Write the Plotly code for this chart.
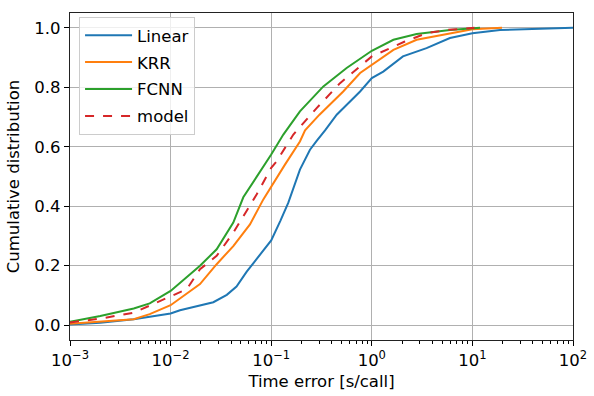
import plotly.graph_objects as go

# ---- data ----
linear_x = [0.001, 0.002, 0.0043, 0.01, 0.0124, 0.0266, 0.0362, 0.0452, 0.0571, 0.0774, 0.1, 0.123, 0.148, 0.193,
            0.243, 0.283, 0.343, 0.448, 0.765, 1.0, 1.3, 2.04, 3.5, 5.98, 10, 18.8, 50, 100]
linear_y = [0.002, 0.008, 0.02, 0.039, 0.05, 0.077, 0.102, 0.13, 0.18, 0.235, 0.285, 0.35, 0.412, 0.523,
            0.59, 0.62, 0.655, 0.708, 0.786, 0.831, 0.853, 0.904, 0.932, 0.966, 0.982, 0.993, 0.998, 1.0]

krr_x = [0.001, 0.002, 0.0043, 0.0062, 0.01, 0.0196, 0.0287, 0.042, 0.0615, 0.0835, 0.1, 0.137, 0.193,
         0.217, 0.302, 0.52, 0.765, 1.0, 1.64, 2.79, 5.98, 10, 19.7]
krr_y = [0.005, 0.011, 0.02, 0.037, 0.067, 0.138, 0.205, 0.266, 0.339, 0.423, 0.467, 0.54, 0.618,
         0.655, 0.708, 0.786, 0.848, 0.876, 0.926, 0.960, 0.982, 0.995, 1.0]

fcnn_x = [0.001, 0.002, 0.0043, 0.0062, 0.01, 0.0196, 0.0287, 0.042, 0.0528, 0.0774, 0.1, 0.132, 0.193,
          0.33, 0.562, 1.0, 1.64, 2.79, 5.98, 11.9]
fcnn_y = [0.011, 0.031, 0.056, 0.073, 0.115, 0.2, 0.255, 0.345, 0.43, 0.515, 0.574, 0.641, 0.719,
          0.803, 0.865, 0.923, 0.96, 0.979, 0.993, 1.0]

model_x = [0.001, 0.002, 0.0043, 0.01, 0.0145, 0.0196, 0.0287, 0.042, 0.0718, 0.1, 0.113, 0.166, 0.283,
           0.483, 0.765, 1.0, 2.13, 3.5, 5.6, 10.5]
model_y = [0.009, 0.022, 0.042, 0.098, 0.121, 0.188, 0.233, 0.311, 0.44, 0.529, 0.551, 0.641, 0.73,
           0.814, 0.87, 0.904, 0.954, 0.982, 0.993, 1.0]

series_names = ["Linear", "KRR", "FCNN", "model"]
x_tick_vals = [1e-3, 1e-2, 1e-1, 1e0, 1e1, 1e2]
x_tick_text = ["10<sup>\u22123</sup>", "10<sup>\u22122</sup>", "10<sup>\u22121</sup>",
               "10<sup>0</sup>", "10<sup>1</sup>", "10<sup>2</sup>"]
y_tick_vals = [0.0, 0.2, 0.4, 0.6, 0.8, 1.0]

colors = ["#1f77b4", "#ff7f0e", "#2ca02c", "#d62728"]
dashes = ["solid", "solid", "solid", "dash"]
xs = [linear_x, krr_x, fcnn_x, model_x]
ys = [linear_y, krr_y, fcnn_y, model_y]

fig = go.Figure()
for name, x, y, c, d in zip(series_names, xs, ys, colors, dashes):
    fig.add_trace(go.Scatter(x=x, y=y, mode="lines", name=name, legendgroup=name,
                             line=dict(color=c, width=2, dash=d)))

minor_vals = [m * 10.0 ** k for k in range(-3, 2) for m in range(2, 10)]

font = dict(family="DejaVu Sans", size=16.5, color="black")
fig.update_layout(
    width=594, height=396,
    margin=dict(l=70, r=21, t=13, b=56, autoexpand=False),
    paper_bgcolor="white", plot_bgcolor="white",
    font=font,
    showlegend=True,
    legend=dict(x=0.018, y=0.988, xanchor="left", yanchor="top",
                bgcolor="rgba(255,255,255,0.8)", bordercolor="#cccccc", borderwidth=1,
                font=font, tracegroupgap=2.5, itemwidth=47),
)
fig.update_xaxes(
    type="log", range=[-3, 2], automargin=False,
    tickvals=x_tick_vals, ticktext=x_tick_text, tickfont=font,
    ticks="outside", ticklen=5, tickcolor="black", tickwidth=1,
    showgrid=True, gridcolor="#b0b0b0", gridwidth=1,
    showline=True, linecolor="#222222", linewidth=1.2, mirror=True,
    zeroline=False,
    minor=dict(tickvals=minor_vals, ticks="outside", ticklen=3, tickcolor="black", showgrid=False),
    title=dict(text="Time error [s/call]", font=font, standoff=6),
)
fig.update_yaxes(
    range=[-0.05, 1.05], automargin=False,
    tickvals=y_tick_vals, tickformat=".1f", tickfont=font,
    ticks="outside", ticklen=5, tickcolor="black", tickwidth=1,
    showgrid=True, gridcolor="#b0b0b0", gridwidth=1,
    showline=True, linecolor="#222222", linewidth=1.2, mirror=True,
    zeroline=False,
    title=dict(text="Cumulative distribution", font=font, standoff=10),
)

fig.write_html("out.html", config={"displayModeBar": False},
               post_script="document.body.style.margin='0';document.body.style.overflow='hidden';")
